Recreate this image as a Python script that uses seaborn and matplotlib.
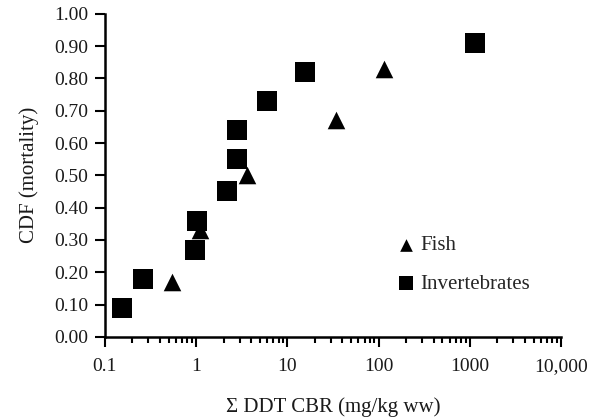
import matplotlib
matplotlib.use("Agg")
import matplotlib.pyplot as plt
import matplotlib.ticker as mticker
import seaborn as sns
import pandas as pd

# Data
fish_cbr = [0.54, 1.1, 3.6, 34, 115]
fish_cdf = [0.17, 0.33, 0.50, 0.67, 0.83]

invert_cbr = [0.153, 0.26, 0.97, 1.02, 2.18, 2.8, 2.8, 5.97, 15.6, 1140]
invert_cdf = [0.09, 0.18, 0.27, 0.36, 0.45, 0.55, 0.64, 0.73, 0.82, 0.91]

x_ticks = [0.1, 1, 10, 100, 1000, 10000]
x_tick_labels = ["0.1", "1", "10", "100", "1000", "10,000"]
y_ticks = [0.0, 0.1, 0.2, 0.3, 0.4, 0.5, 0.6, 0.7, 0.8, 0.9, 1.0]

df = pd.DataFrame({
    "CBR": fish_cbr + invert_cbr,
    "CDF": fish_cdf + invert_cdf,
    "Group": ["Fish"] * len(fish_cbr) + ["Invertebrates"] * len(invert_cbr),
})

sns.set_style("ticks")
plt.rcParams["font.family"] = ["Liberation Serif", "DejaVu Serif"]

fig = plt.figure(figsize=(5.92, 4.2), dpi=100)
ax = fig.add_axes([0.177, 0.198, 0.771, 0.769])

# squares are a bit larger than triangles in the original
for grp, mk, sz in [("Fish", "^", 160), ("Invertebrates", "s", 190)]:
    sub = df[df["Group"] == grp]
    sns.scatterplot(data=sub, x="CBR", y="CDF", marker=mk, s=sz, color="black",
                    edgecolor="black", linewidth=0, ax=ax, label=grp, zorder=3)

ax.set_xscale("log")
ax.set_xlim(0.1, 10000)
ax.set_ylim(0, 1.0)
ax.set_xticks(x_ticks)
ax.set_xticklabels(x_tick_labels)
ax.xaxis.set_minor_locator(mticker.LogLocator(base=10, subs=range(2, 10)))
ax.xaxis.set_minor_formatter(mticker.NullFormatter())
ax.set_yticks(y_ticks)
ax.yaxis.set_major_formatter(mticker.FormatStrFormatter("%.2f"))

ax.tick_params(axis="both", which="major", length=7, width=1.5, labelsize=14, color="black", labelcolor="#1a1a1a")
ax.tick_params(axis="x", which="minor", length=4, width=1.5, color="black")
ax.tick_params(axis="x", pad=8)
ax.tick_params(axis="y", pad=5)
for sp in ["left", "bottom"]:
    ax.spines[sp].set_linewidth(1.8)
    ax.spines[sp].set_color("black")
sns.despine(ax=ax)

ax.set_xlabel("Σ DDT CBR (mg/kg ww)", fontsize=15, labelpad=16, color="#1a1a1a")
ax.set_ylabel("CDF (mortality)", fontsize=15, labelpad=11, color="#1a1a1a")

ax.legend(loc="upper left", bbox_to_anchor=(0.605, 0.345), frameon=False, fontsize=15,
          markerscale=0.72, handletextpad=0.0, labelspacing=0.9, borderpad=0, handlelength=1.4)
for c in ax.collections:
    c.set_clip_on(False)

fig.savefig("out.png", dpi=100)
